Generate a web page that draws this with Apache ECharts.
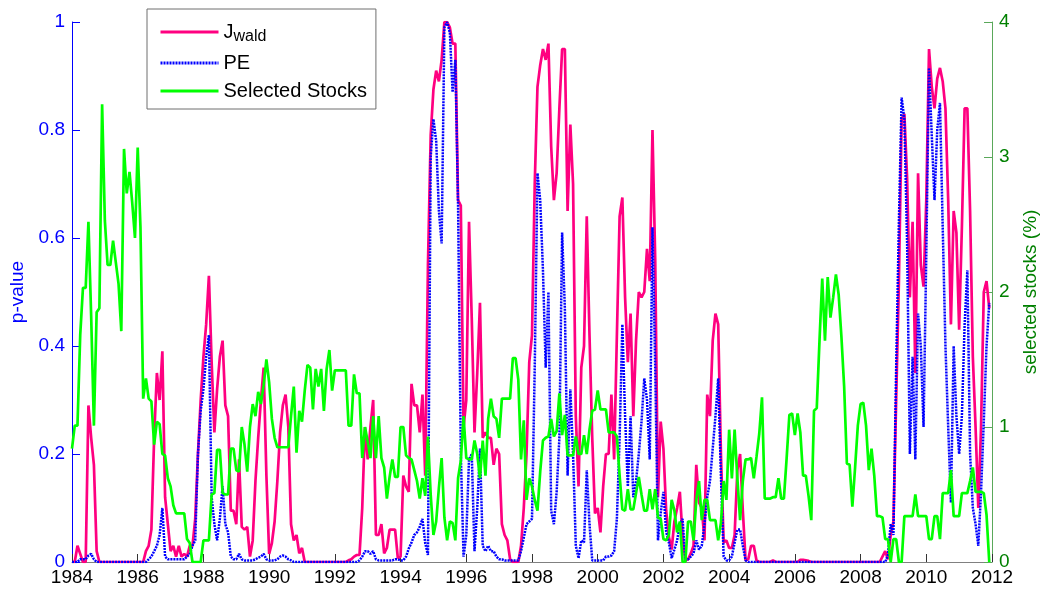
<!DOCTYPE html>
<html>
<head>
<meta charset="utf-8">
<script src="https://cdn.jsdelivr.net/npm/echarts@6/dist/echarts.min.js"></script>
<style>
html,body{margin:0;padding:0;background:#fff;}
#chart{width:1042px;height:595px;}
</style>
</head>
<body>
<div id="chart"></div>
<script>
// Monthly observations, Jan 1984 .. Dec 2011 (12 values per year)
const startYear = 1984;
const xTicks = [1984,1986,1988,1990,1992,1994,1996,1998,2000,2002,2004,2006,2008,2010,2012];
const seriesNames = ['Jwald', 'PE', 'Selected Stocks'];

const jwald = [
 0,0,0.03,0.015,0,0,0.29,0.23,0.18,0.02,0,0,
 0,0,0,0,0,0,0,0,0,0,0,0,
 0,0,0,0.02,0.03,0.06,0.23,0.35,0.3,0.39,0.12,0.07,
 0.02,0.03,0.01,0.03,0.01,0.015,0.01,0.03,0.03,0.08,0.2,0.3,
 0.38,0.44,0.53,0.37,0.24,0.32,0.38,0.41,0.29,0.27,0.095,0.095,
 0.07,0.19,0.065,0.06,0.065,0.01,0.04,0.15,0.23,0.3,0.36,0.16,
 0.015,0.035,0.075,0.15,0.24,0.29,0.31,0.25,0.07,0.04,0.05,0.016,
 0.026,0,0,0,0,0,0,0,0,0,0,0,
 0,0,0,0,0,0.003,0.005,0.01,0.013,0.013,0.1,0.25,
 0.19,0.25,0.3,0.05,0.05,0.07,0.016,0.026,0.06,0.06,0.06,0.007,
 0.01,0.16,0.14,0.13,0.33,0.29,0.29,0.24,0.31,0.16,0.55,0.79,
 0.875,0.91,0.89,0.93,1.0,1.0,0.99,0.96,0.96,0.67,0.66,0.25,
 0.3,0.63,0.45,0.24,0.35,0.48,0.23,0.24,0.23,0.23,0.18,0.21,
 0.2,0.07,0.05,0.04,0.005,0,0,0,0.03,0.1,0.2,0.37,
 0.42,0.7,0.88,0.92,0.95,0.93,0.96,0.77,0.67,0.72,0.84,0.95,
 0.95,0.65,0.81,0.7,0.27,0.14,0.36,0.4,0.64,0.42,0.23,0.09,
 0.1,0.055,0.14,0.2,0.2,0.31,0.19,0.42,0.64,0.675,0.49,0.37,
 0.46,0.27,0.41,0.5,0.49,0.5,0.58,0.52,0.8,0.56,0.12,0.26,
 0.21,0.095,0.046,0.023,0.075,0.1,0.13,0.046,0.003,0.005,0.016,0.03,
 0.18,0.11,0.1,0.04,0.31,0.27,0.41,0.46,0.44,0.2,0.036,0.04,
 0.026,0.026,0.05,0.17,0.2,0.095,0.003,0.005,0.03,0.03,0.003,0,
 0,0,0,0,0.003,0,0,0,0,0,0,0,
 0,0,0.004,0.004,0.003,0.002,0,0,0,0,0,0,
 0,0,0,0,0,0,0,0,0,0,0,0,
 0,0,0,0,0,0,0,0,0.01,0.02,0.005,0.05,
 0.075,0.3,0.52,0.82,0.83,0.71,0.49,0.63,0.35,0.72,0.55,0.51,
 0.67,0.95,0.88,0.84,0.895,0.915,0.89,0.84,0.67,0.44,0.65,0.61,
 0.43,0.62,0.84,0.84,0.65,0.38,0.25,0.1,0.25,0.5,0.52,0.47
];

const pe = [
 0,0,0,0.005,0.005,0.005,0.012,0.015,0.005,0,0,0,
 0,0,0,0,0,0,0,0,0,0,0,0,
 0,0,0,0,0.005,0.01,0.02,0.03,0.05,0.1,0.01,0.005,
 0.005,0.005,0.005,0.005,0.005,0.005,0.01,0.015,0.03,0.04,0.2,0.28,
 0.32,0.38,0.42,0.12,0.07,0.04,0.08,0.14,0.07,0.055,0.01,0.005,
 0.005,0.015,0.005,0.003,0.003,0.003,0.003,0.005,0.008,0.01,0.015,0.005,
 0.003,0.003,0.003,0.005,0.01,0.012,0.01,0.005,0.003,0,0,0,
 0,0,0,0,0,0,0,0,0,0,0,0,
 0,0,0,0,0,0,0,0,0,0.003,0.01,0.02,
 0.02,0.015,0.02,0.005,0.003,0.003,0.003,0.003,0.003,0.003,0.005,0.005,
 0.003,0.003,0.01,0.025,0.036,0.05,0.055,0.065,0.08,0.035,0.013,0.75,
 0.82,0.78,0.65,0.59,0.99,1.0,0.98,0.87,0.93,0.66,0.2,0.01,
 0.05,0.19,0.2,0.02,0.1,0.21,0.03,0.02,0.03,0.02,0.02,0.01,
 0.005,0.005,0.003,0.003,0.003,0.003,0.003,0.003,0.02,0.045,0.07,0.075,
 0.08,0.36,0.72,0.67,0.54,0.36,0.5,0.095,0.07,0.13,0.23,0.61,
 0.47,0.16,0.32,0.2,0.03,0.007,0.04,0.036,0.17,0.07,0.003,0.003,
 0.003,0.003,0.003,0.01,0.01,0.012,0.02,0.08,0.23,0.44,0.27,0.14,
 0.27,0.12,0.15,0.2,0.26,0.34,0.3,0.19,0.62,0.36,0.04,0.09,
 0.13,0.056,0.036,0.007,0.023,0.04,0.07,0.08,0.003,0.005,0.01,0.016,
 0.04,0.023,0.03,0.07,0.12,0.15,0.21,0.27,0.34,0.16,0.01,0.003,
 0.003,0.01,0.036,0.06,0.06,0.03,0.003,0,0,0,0,0,
 0,0,0,0,0,0,0,0,0,0,0,0,
 0,0,0,0,0,0,0,0,0,0,0,0,
 0,0,0,0,0,0,0,0,0,0,0,0,
 0,0,0,0,0,0,0,0,0,0,0.013,0.07,
 0.05,0.36,0.63,0.86,0.82,0.59,0.2,0.38,0.19,0.46,0.4,0.25,
 0.57,0.915,0.79,0.67,0.8,0.85,0.62,0.4,0.25,0.11,0.4,0.27,
 0.2,0.27,0.44,0.54,0.2,0.1,0.07,0.03,0.13,0.26,0.4,0.48
];

const selected = [
 0.84,1.01,1.01,1.68,2.03,2.03,2.52,1.82,1.01,1.85,1.88,3.39,
 2.53,2.2,2.2,2.38,2.22,2.06,1.71,3.06,2.73,2.89,2.66,2.4,
 3.07,2.48,1.21,1.36,1.21,1.19,0.87,1.04,1.02,0.8,0.79,0.62,
 0.56,0.42,0.36,0.36,0.36,0.36,0.17,0.14,0,0,0,0,
 0.16,0.16,0.16,0.5,0.51,0.83,0.83,0.51,0.5,0.5,0.84,0.84,
 0.68,0.67,1.0,0.87,0.67,1.0,1.17,1.08,1.26,1.17,1.31,1.5,
 1.33,1.06,0.92,0.85,0.85,0.85,0.85,0.85,1.08,1.3,0.81,1.12,
 1.04,1.27,1.46,1.44,1.13,1.43,1.3,1.43,1.12,1.43,1.57,1.27,
 1.42,1.42,1.42,1.42,1.42,1.01,1.01,1.39,1.25,1.25,0.77,1.0,
 0.89,0.77,1.08,0.77,1.08,0.77,0.7,0.47,0.63,0.76,0.63,0.63,
 1.0,1.0,0.79,0.77,0.76,0.68,0.6,0.47,0.62,0.49,0.93,0.5,
 0.2,0.3,0.55,0.77,0.33,0.16,0.3,0.29,0.16,0.62,0.75,1.08,
 0.77,0.76,0.76,0.9,0.8,0.62,0.9,0.64,1.06,1.21,1.08,1.06,
 0.92,1.21,1.21,1.21,1.21,1.51,1.51,1.35,0.76,1.05,0.46,0.62,
 0.56,0.46,0.38,0.67,0.9,0.92,0.93,1.06,0.93,0.97,1.25,0.94,
 1.09,0.79,0.79,0.79,0.93,0.8,0.8,0.94,0.8,0.98,1.12,1.13,
 1.27,1.13,1.13,1.13,0.96,0.96,0.96,0.93,0.64,0.39,0.38,0.54,
 0.39,0.39,0.51,0.63,0.5,0.38,0.38,0.54,0.39,0.54,0.33,0.32,
 0.17,0.16,0.2,0.46,0.38,0.22,0.3,0,0,0.3,0.3,0.16,
 0.46,0.6,0.31,0.46,0.46,0.31,0.31,0.31,0.16,0.29,0.6,0.46,
 0.98,0.62,0.98,0.62,0.31,0.6,0.76,0.76,0.77,0.62,0.78,0.95,
 1.22,0.47,0.47,0.47,0.48,0.48,0.62,0.47,0.47,0.77,1.09,1.1,
 0.94,1.1,0.96,0.64,0.64,0.49,0.31,1.12,1.14,1.64,2.1,1.64,
 2.11,1.81,1.96,2.13,1.98,1.67,1.3,0.73,0.72,0.41,0.7,1.01,
 1.17,1.18,1.01,0.68,0.84,0.64,0.34,0.34,0.33,0.17,0.17,0,
 0.17,0.17,0,0,0.34,0.34,0.34,0.34,0.5,0.34,0.34,0.34,
 0.34,0.17,0.17,0.34,0.34,0.17,0.51,0.51,0.51,0.68,0.34,0.34,
 0.34,0.51,0.51,0.51,0.6,0.7,0.52,0.52,0.52,0.51,0.35,0
];

const toXY = arr => arr.map((v, i) => [startYear + i / 12, v]);
const FONT = '"Liberation Sans", Arial, Helvetica, sans-serif';

const chart = echarts.init(document.getElementById('chart'), null, {renderer: 'canvas'});
chart.setOption({
  animation: false,
  backgroundColor: '#ffffff',
  textStyle: {fontFamily: FONT},
  grid: {left: 72, right: 50, top: 22, bottom: 33, containLabel: false, outerBoundsMode: 'none'},
  legend: {
    orient: 'vertical',
    left: 147, top: 9,
    backgroundColor: '#ffffff',
    borderColor: '#6e6e6e', borderWidth: 1, borderRadius: 0,
    padding: [13, 9, 8, 12],
    itemWidth: 58, itemHeight: 14, itemGap: 8,
    data: seriesNames,
    itemStyle: {opacity: 0},
    lineStyle: {width: 3},
    textStyle: {
      fontSize: 20, color: '#000', fontFamily: FONT,
      rich: {
        j: {fontSize: 20, fontFamily: FONT, color: '#000'},
        s: {fontSize: 16, fontFamily: FONT, color: '#000', padding: [10, 0, 0, 0]}
      }
    },
    formatter: n => n === 'Jwald' ? '{j|J}{s|wald}' : n
  },
  xAxis: {
    type: 'value', min: xTicks[0], max: xTicks[xTicks.length - 1], interval: 2,
    axisLine: {show: true, onZero: false, lineStyle: {color: '#808080', width: 1}},
    axisTick: {show: true, inside: true, length: 8, lineStyle: {color: '#333'}},
    axisLabel: {fontSize: 19, color: '#000', margin: 6, fontFamily: FONT, formatter: v => String(v)},
    splitLine: {show: false}
  },
  yAxis: [{
    type: 'value', position: 'left', min: 0, max: 1, interval: 0.2,
    name: 'p-value', nameLocation: 'middle', nameGap: 33, nameRotate: 90,
    nameTextStyle: {color: '#0000ff', fontSize: 19, fontFamily: FONT},
    axisLine: {show: true, onZero: false, lineStyle: {color: '#0000ff', width: 1}},
    axisTick: {show: true, inside: true, length: 8, lineStyle: {color: '#0000ff'}},
    axisLabel: {fontSize: 19, color: '#0000ff', margin: 7, fontFamily: FONT},
    splitLine: {show: false}
  }, {
    type: 'value', position: 'right', min: 0, max: 4, interval: 1,
    name: 'selected stocks (%)', nameLocation: 'middle', nameGap: 29, nameRotate: 90,
    nameTextStyle: {color: '#008000', fontSize: 19, fontFamily: FONT},
    axisLine: {show: true, onZero: false, lineStyle: {color: '#5aa85a', width: 1}},
    axisTick: {show: true, inside: true, length: 8, lineStyle: {color: '#5aa85a'}},
    axisLabel: {fontSize: 19, color: '#008000', margin: 7, fontFamily: FONT},
    splitLine: {show: false}
  }],
  series: [{
    name: 'Jwald', type: 'line', yAxisIndex: 0, data: toXY(jwald),
    symbol: 'none', showSymbol: false,
    lineStyle: {color: '#ff0080', width: 2.7}, itemStyle: {color: '#ff0080'}
  }, {
    name: 'PE', type: 'line', yAxisIndex: 0, data: toXY(pe),
    symbol: 'none', showSymbol: false,
    lineStyle: {color: '#0000ff', width: 2.5, type: [2, 1]}, itemStyle: {color: '#0000ff'}
  }, {
    name: 'Selected Stocks', type: 'line', yAxisIndex: 1, data: toXY(selected),
    symbol: 'none', showSymbol: false,
    lineStyle: {color: '#00ff00', width: 2.7}, itemStyle: {color: '#00ff00'}
  }]
});
</script>
</body>
</html>
